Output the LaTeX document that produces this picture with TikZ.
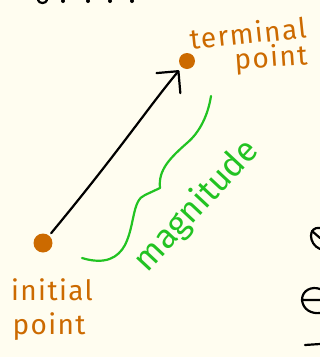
\documentclass[tikz,border=0pt]{standalone}
\usepackage{fontspec}
\setmainfont{Fira Sans}
\usetikzlibrary{arrows.meta}
\definecolor{paper}{HTML}{FFFDF0}
\definecolor{ochre}{HTML}{CC6A00}
\definecolor{leaf}{HTML}{22C322}
\tikzset{
  dot/.style={circle, fill=ochre, inner sep=0pt, minimum size=19pt},
  pointlabel/.style={text=ochre, font=\fontsize{28}{30}\selectfont\addfontfeatures{LetterSpace=5}, inner sep=0pt},
  ink/.style={line width=2.2pt, line cap=round, line join=round},
}
\begin{document}
\begin{tikzpicture}[x=1pt, y=-1pt]
  % Paper
  \fill[paper] (0,0) rectangle (320,357);
  \useasboundingbox (0,0) rectangle (320,357);
  \clip (0,0) rectangle (320,357);

  % Define the two end points of the vector
  \node[dot] (ip) at (43,243) {};
  \node[dot, minimum size=16pt] (tp) at (187,61) {};

  % Draw the vector
  \draw[ink, -{Straight Barb[angle=90:22pt, round]}, shorten <=3pt, shorten >=4pt]
    (ip) .. controls (120,150) and (150,105) .. (tp);

  % Brace for the length
  \draw[ink, leaf] (82,258) .. controls (105,265) and (118,258) .. (125,245)
    .. controls (135,225) and (132,200) .. (145,195)
    .. controls (152,192) .. (160,188)
    .. controls (158,170) and (170,158) .. (187,143)
    .. controls (200,132) and (208,115) .. (211,96);

  % Add labels
  \node[pointlabel, rotate=6] (term) at (248,33) {terminal};
  \node[pointlabel, rotate=4] (termpt) at (271,59) {point};
  \node[pointlabel] (init) at (52,290) {initial};
  \node[pointlabel] (initpt) at (49,327) {point};
  \node[text=leaf, font=\fontsize{34}{36}\selectfont, inner sep=0pt, rotate=47] (mag) at (197,206) {magnitude};

  % Cut-off writing at the edges
  \draw[ink] (38,0) .. controls (39,4) and (46,4) .. (47,0);
  \foreach \x in {63,88,110,132} {
    \fill (\x,1) circle (2pt);
  }
  \draw[ink] (320,228) .. controls (308,226) and (308,244) .. (320,249);
  \draw[ink] (312,231) -- (320,238);
  \draw[ink] (320,300) -- (302,300) .. controls (302,290) and (312,286) .. (320,289);
  \draw[ink] (302,300) .. controls (303,310) and (312,314) .. (320,313);
  \draw[ink] (305,345) -- (320,344);
\end{tikzpicture}
\end{document}
